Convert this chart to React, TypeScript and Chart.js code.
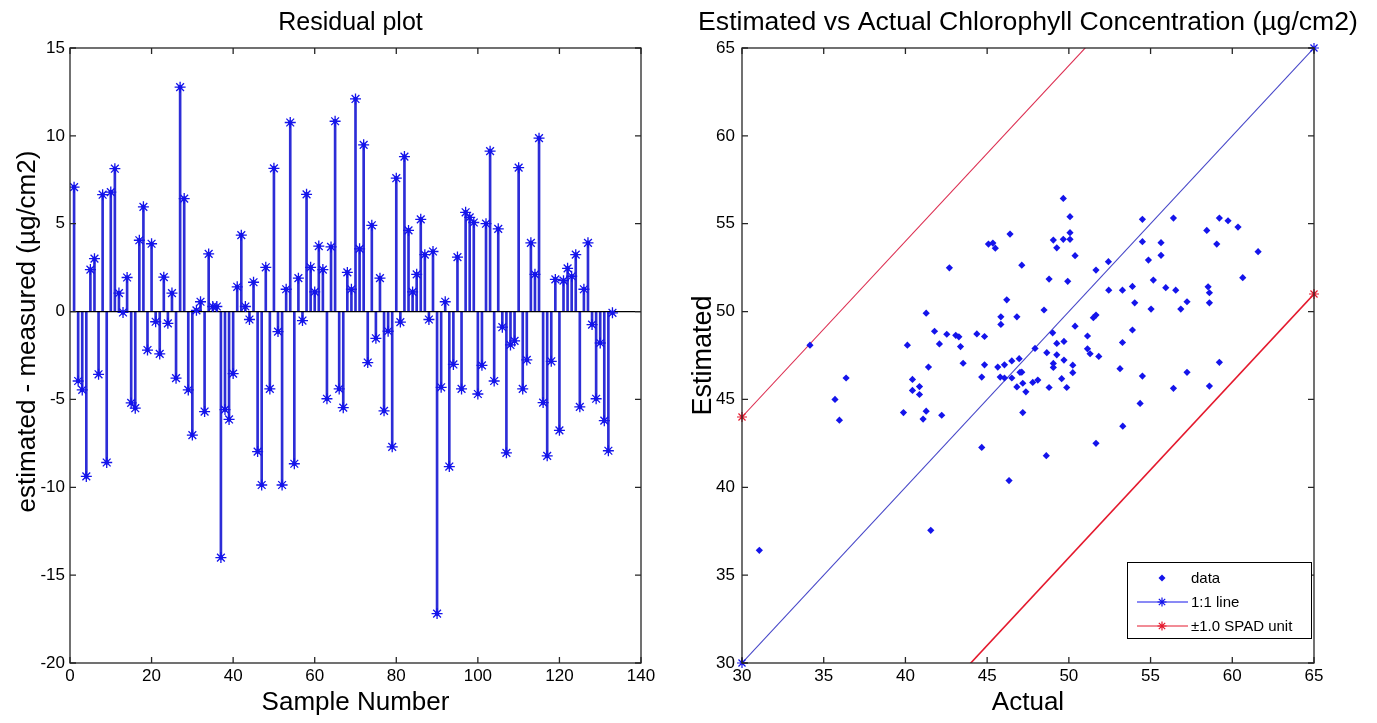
import React, { useEffect, useRef } from "react";
import { Chart, registerables } from "chart.js";

Chart.register(...registerables);

const FONT = "'Liberation Sans', Arial, Helvetica, sans-serif";
const TICK_FONT = "'Liberation Sans Narrow', 'Liberation Sans', Arial, sans-serif";

// ---------------- Residual plot data ----------------
const RESIDUALS = [
  7.08, -3.95, -4.46, -9.38, 2.39, 3.01, -3.57, 6.65, -8.59, 6.8,
  8.13, 1.05, -0.05, 1.94, -5.2, -5.5, 4.06, 5.96, -2.19, 3.86,
  -0.58, -2.41, 1.96, -0.67, 1.05, -3.79, 12.77, 6.43, -4.46, -7.03,
  0.07, 0.56, -5.69, 3.28, 0.29, 0.29, -14.0, -5.58, -6.14, -3.53,
  1.41, 4.35, 0.29, -0.45, 1.67, -7.97, -9.87, 2.52, -4.4, 8.15,
  -1.14, -9.87, 1.27, 10.76, -8.66, 1.9, -0.51, 6.67, 2.52, 1.12,
  3.73, 2.39, -4.96, 3.68, 10.83, -4.4, -5.47, 2.23, 1.27, 12.1,
  3.57, 9.49, -2.9, 4.91, -1.52, 1.9, -5.65, -1.12, -7.7, 7.59,
  -0.6, 8.82, 4.62, 1.12, 2.12, 5.25, 3.24, -0.45, 3.42, -17.19,
  -4.31, 0.56, -8.82, -3.01, 3.1, -4.4, 5.65, 5.36, 5.07, -4.69,
  -3.06, 5.0, 9.13, -3.95, 4.71, -0.89, -8.04, -1.9, -1.67, 8.19,
  -4.4, -2.75, 3.91, 2.12, 9.87, -5.18, -8.21, -2.83, 1.83, -6.76,
  1.76, 2.46, 2.01, 3.24, -5.42, 1.27, 3.91, -0.74, -4.96, -1.79,
  -6.21, -7.92, -0.07,
];
const SAMPLE_NUMBERS = RESIDUALS.map((_, i) => i + 1);
const RES_X_MIN = 0;
const RES_X_MAX = 140;
const RES_X_STEP = 20;
const RES_Y_MIN = -20;
const RES_Y_MAX = 15;
const RES_Y_STEP = 5;

// ---------------- Estimated vs actual data ----------------
const ACTUAL = [
  45.08, 45.35, 45.5, 42.69, 47.12, 46.2, 41.27, 45.84, 46.82, 45.84,
  41.78, 42.53, 43.08, 43.27, 44.37, 44.84, 34.16, 40.12, 42.08, 43.37,
  41.41, 43.53, 44.84, 45.65, 46.06, 46.51, 46.96, 47.12, 36.37, 40.43,
  40.86, 40.43, 40.86, 44.67, 45.8, 46.06, 46.51, 46.82, 47.18, 47.37,
  35.69, 35.96, 39.88, 41.27, 41.08, 42.22, 47.18, 44.67,
  31.06, 41.55,
  46.4, 49.66, 50.07, 50.07, 49.05, 49.66, 50.07, 49.26, 50.38, 52.42,
  51.66, 48.79, 49.93, 48.48, 50.38, 51.5, 51.66, 49.01, 47.93, 48.65,
  49.26, 49.7, 49.26, 49.7, 49.05, 49.05, 50.24, 50.24, 51.14, 51.14,
  51.3, 51.83, 47.01, 47.79, 48.1, 48.79, 49.56, 49.87, 53.3, 54.36,
  53.13, 54.5, 53.28, 53.89, 52.44, 53.28, 53.89, 54.03, 55.03, 55.17,
  55.93, 56.54, 57.23, 56.85, 54.5, 54.5, 54.87, 55.64, 55.64, 56.4,
  58.44, 59.21, 59.74, 60.35, 59.05, 61.58, 60.64, 58.52, 58.6, 58.6,
  59.21, 57.23, 56.4, 58.6,
  46.34, 48.62, 51.66,
];
const ESTIMATED = [
  53.84, 53.9, 53.61, 52.49, 52.64, 50.67, 49.91, 49.7, 49.7, 49.27,
  48.88, 48.71, 48.65, 48.56, 48.73, 48.58, 48.09, 48.09, 48.16, 48.01,
  46.84, 47.06, 46.97, 46.84, 46.97, 47.19, 47.32, 46.55, 46.22, 46.14,
  45.73, 45.51, 45.28, 46.27, 46.27, 46.22, 46.22, 45.71, 45.92, 45.43,
  45.0, 43.82, 44.25, 44.33, 43.88, 44.1, 44.25, 42.27,
  36.41, 37.55,
  54.41, 56.44, 55.4, 54.49, 54.07, 54.11, 54.11, 53.63, 53.18, 52.84,
  52.36, 51.85, 51.72, 50.09, 49.17, 49.65, 49.8, 48.79, 47.9, 47.66,
  48.19, 48.3, 47.54, 47.24, 47.05, 46.82, 46.95, 46.52, 48.61, 47.88,
  47.6, 47.45, 46.54, 45.97, 46.1, 45.68, 46.18, 45.68, 43.48, 44.77,
  46.75, 46.33, 48.24, 48.95, 51.22, 51.22, 51.43, 50.5, 50.14, 51.79,
  51.36, 51.22, 50.56, 50.14, 55.25, 53.98, 52.93, 53.92, 53.2, 55.32,
  54.62, 55.32, 55.17, 54.81, 53.84, 53.41, 51.93, 51.41, 51.07, 50.5,
  47.11, 46.54, 45.63, 45.76,
  40.38, 41.8, 42.5,
];
const AXIS_MIN = 30;
const AXIS_MAX = 65;
const AXIS_STEP = 5;
const SPAD_OFFSET = 14;

const BLUE = "rgb(20,20,235)";
const STEM = "rgb(45,45,215)";
const LINE_BLUE = "rgb(70,70,200)";
const RED = "rgb(228,25,45)";
const AXIS_COLOR = "#262626";

function drawStar(ctx: CanvasRenderingContext2D, x: number, y: number, r: number) {
  const d = r * 0.707;
  ctx.beginPath();
  ctx.moveTo(x - r, y);
  ctx.lineTo(x + r, y);
  ctx.moveTo(x, y - r);
  ctx.lineTo(x, y + r);
  ctx.moveTo(x - d, y - d);
  ctx.lineTo(x + d, y + d);
  ctx.moveTo(x - d, y + d);
  ctx.lineTo(x + d, y - d);
  ctx.stroke();
}

const boxPlugin = {
  id: "matlabBox",
  afterDatasetsDraw(chart: any, _args: any, opts: any) {
    const { ctx, chartArea: a, scales } = chart;
    ctx.save();
    ctx.strokeStyle = AXIS_COLOR;
    ctx.lineWidth = 1.3;
    ctx.strokeRect(a.left, a.top, a.right - a.left, a.bottom - a.top);
    const L = 6;
    ctx.beginPath();
    scales.x.ticks.forEach((t: any) => {
      const px = scales.x.getPixelForValue(t.value);
      ctx.moveTo(px, a.bottom);
      ctx.lineTo(px, a.bottom - L);
      ctx.moveTo(px, a.top);
      ctx.lineTo(px, a.top + L);
    });
    scales.y.ticks.forEach((t: any) => {
      const py = scales.y.getPixelForValue(t.value);
      ctx.moveTo(a.left, py);
      ctx.lineTo(a.left + L, py);
      ctx.moveTo(a.right, py);
      ctx.lineTo(a.right - L, py);
    });
    ctx.stroke();
    ctx.fillStyle = "#000";
    ctx.font = `${opts.fontSize}px ${FONT}`;
    ctx.textAlign = "center";
    ctx.textBaseline = "middle";
    ctx.fillText(opts.text, (a.left + a.right) / 2 + (opts.dx || 0), opts.y);
    if (opts.yLabel) {
      ctx.save();
      ctx.font = `${opts.yLabel.size}px ${FONT}`;
      ctx.translate(opts.yLabel.x, (a.top + a.bottom) / 2 + opts.yLabel.dy);
      ctx.rotate(-Math.PI / 2);
      ctx.fillText(opts.yLabel.text, 0, 0);
      ctx.restore();
    }
    ctx.restore();
  },
};

const legendPlugin = {
  id: "boxLegend",
  afterDraw(chart: any, _args: any, opts: any) {
    const { ctx, chartArea: a } = chart;
    const w = opts.width;
    const h = opts.height;
    const x1 = a.right - opts.right - w;
    const y1 = a.bottom - opts.bottom - h;
    ctx.save();
    ctx.fillStyle = "#fff";
    ctx.fillRect(x1, y1, w, h);
    ctx.strokeStyle = "#000";
    ctx.lineWidth = 1;
    ctx.strokeRect(x1 + 0.5, y1 + 0.5, w, h);
    ctx.font = `15px ${FONT}`;
    ctx.textBaseline = "middle";
    ctx.textAlign = "left";
    opts.items.forEach((it: any, i: number) => {
      const cy = y1 + 16 + i * 24;
      const mx = x1 + 35;
      if (it.line) {
        ctx.strokeStyle = it.color;
        ctx.lineWidth = 1;
        ctx.beginPath();
        ctx.moveTo(x1 + 10, cy);
        ctx.lineTo(x1 + 61, cy);
        ctx.stroke();
      }
      if (it.marker === "star") {
        ctx.strokeStyle = it.color;
        ctx.lineWidth = 1.2;
        drawStar(ctx, mx, cy, 4.5);
      } else {
        ctx.fillStyle = it.color;
        ctx.beginPath();
        ctx.moveTo(mx, cy - 3.5);
        ctx.lineTo(mx + 3.5, cy);
        ctx.lineTo(mx, cy + 3.5);
        ctx.lineTo(mx - 3.5, cy);
        ctx.closePath();
        ctx.fill();
      }
      ctx.fillStyle = "#000";
      ctx.fillText(it.label, x1 + 64, cy + 1);
    });
    ctx.restore();
  },
};

function tickFont() {
  return { family: TICK_FONT, size: 17 };
}

function leftConfig(): any {
  const pts = SAMPLE_NUMBERS.map((x, i) => ({ x, y: RESIDUALS[i] }));
  return {
    type: "scatter",
    data: {
      datasets: [
        {
          type: "scatter",
          label: "residual",
          data: pts,
          pointStyle: "star",
          pointRadius: 5.5,
          pointBorderColor: BLUE,
          pointBackgroundColor: BLUE,
          pointBorderWidth: 1.3,
          showLine: false,
        },
        {
          type: "scatter",
          label: "centre",
          data: pts,
          pointStyle: "circle",
          pointRadius: 2.3,
          pointBorderWidth: 0,
          pointBackgroundColor: BLUE,
          showLine: false,
        },
        {
          type: "line",
          label: "baseline",
          data: [
            { x: RES_X_MIN, y: 0 },
            { x: RES_X_MAX, y: 0 },
          ],
          borderColor: "#000",
          borderWidth: 1.2,
          pointRadius: 0,
          showLine: true,
          tension: 0,
        },
        {
          type: "bar",
          label: "stems",
          data: pts,
          backgroundColor: STEM,
          borderWidth: 0,
          barThickness: 2,
        },
      ],
    },
    options: {
      animation: false,
      responsive: false,
      maintainAspectRatio: false,
      layout: { padding: { top: 48, right: 39, left: 0, bottom: 0 } },
      plugins: {
        legend: { display: false },
        tooltip: { enabled: false },
        title: { display: false },
        matlabBox: {
          text: "Residual plot",
          fontSize: 25,
          y: 23,
          dx: -5,
          yLabel: { text: "estimated - measured (µg/cm2)", size: 26, x: 28, dy: -24 },
        },
      },
      scales: {
        x: {
          type: "linear",
          min: RES_X_MIN,
          max: RES_X_MAX,
          offset: false,
          ticks: { stepSize: RES_X_STEP, font: tickFont(), color: "#000", padding: 3, maxRotation: 0, autoSkip: false },
          grid: { display: false, drawTicks: false },
          border: { display: false },
          title: { display: true, text: "Sample Number", color: "#000", font: { family: FONT, size: 26 }, padding: { top: 0, bottom: 5 } },
          afterFit: (s: any) => {
            s.height = 60;
          },
        },
        y: {
          type: "linear",
          min: RES_Y_MIN,
          max: RES_Y_MAX,
          ticks: { stepSize: RES_Y_STEP, font: tickFont(), color: "#000", padding: 5, autoSkip: false },
          grid: { display: false, drawTicks: false },
          border: { display: false },
          title: { display: false },
          afterFit: (s: any) => {
            s.width = 70;
          },
        },
      },
    },
    plugins: [boxPlugin],
  };
}

function rightConfig(): any {
  const pts = ACTUAL.map((x, i) => ({ x, y: ESTIMATED[i] }));
  return {
    type: "scatter",
    data: {
      datasets: [
        {
          type: "scatter",
          label: "ends",
          data: [
            { x: AXIS_MIN, y: AXIS_MIN },
            { x: AXIS_MAX, y: AXIS_MAX },
            { x: AXIS_MIN, y: AXIS_MIN + SPAD_OFFSET },
            { x: AXIS_MAX, y: AXIS_MAX - SPAD_OFFSET },
          ],
          pointStyle: "star",
          pointRadius: 5,
          pointBorderWidth: 1.2,
          pointBorderColor: [BLUE, BLUE, RED, RED],
          pointBackgroundColor: [BLUE, BLUE, RED, RED],
          clip: false,
          showLine: false,
        },
        {
          type: "scatter",
          label: "data",
          data: pts,
          pointStyle: "rectRot",
          pointRadius: 3.6,
          pointBorderWidth: 0,
          pointBackgroundColor: BLUE,
          showLine: false,
        },
        {
          type: "line",
          label: "1:1 line",
          data: [
            { x: AXIS_MIN, y: AXIS_MIN },
            { x: AXIS_MAX, y: AXIS_MAX },
          ],
          borderColor: LINE_BLUE,
          borderWidth: 1.1,
          pointRadius: 0,
          showLine: true,
          tension: 0,
        },
        {
          type: "line",
          label: "±1.0 SPAD unit",
          data: [
            { x: AXIS_MIN, y: AXIS_MIN + SPAD_OFFSET },
            { x: AXIS_MAX, y: AXIS_MAX + SPAD_OFFSET },
          ],
          borderColor: "rgb(220,45,80)",
          borderWidth: 1.1,
          pointRadius: 0,
          showLine: true,
          tension: 0,
        },
        {
          type: "line",
          label: "±1.0 SPAD unit (lower)",
          data: [
            { x: AXIS_MIN, y: AXIS_MIN - SPAD_OFFSET },
            { x: AXIS_MAX, y: AXIS_MAX - SPAD_OFFSET },
          ],
          borderColor: RED,
          borderWidth: 1.6,
          pointRadius: 0,
          showLine: true,
          tension: 0,
        },
      ],
    },
    options: {
      animation: false,
      responsive: false,
      maintainAspectRatio: false,
      layout: { padding: { top: 48, right: 63, left: 0, bottom: 0 } },
      plugins: {
        legend: { display: false },
        tooltip: { enabled: false },
        title: { display: false },
        matlabBox: { text: "Estimated vs Actual Chlorophyll Concentration (µg/cm2)", fontSize: 26.6, y: 23, dx: 0 },
        boxLegend: {
          width: 184,
          height: 76,
          right: 3,
          bottom: 25,
          items: [
            { label: "data", color: BLUE, line: false, marker: "diamond" },
            { label: "1:1 line", color: BLUE, line: true, marker: "star" },
            { label: "±1.0 SPAD unit", color: RED, line: true, marker: "star" },
          ],
        },
      },
      scales: {
        x: {
          type: "linear",
          min: AXIS_MIN,
          max: AXIS_MAX,
          ticks: { stepSize: AXIS_STEP, font: tickFont(), color: "#000", padding: 3, maxRotation: 0, autoSkip: false },
          grid: { display: false, drawTicks: false },
          border: { display: false },
          title: { display: true, text: "Actual", color: "#000", font: { family: FONT, size: 26 }, padding: { top: 0, bottom: 5 } },
          afterFit: (s: any) => {
            s.height = 60;
          },
        },
        y: {
          type: "linear",
          min: AXIS_MIN,
          max: AXIS_MAX,
          ticks: { stepSize: AXIS_STEP, font: tickFont(), color: "#000", padding: 7, autoSkip: false },
          grid: { display: false, drawTicks: false },
          border: { display: false },
          title: { display: true, text: "Estimated", color: "#000", font: { family: FONT, size: 27 }, padding: { top: 7, bottom: 0 } },
          afterFit: (s: any) => {
            s.width = 62;
          },
        },
      },
    },
    plugins: [boxPlugin, legendPlugin],
  };
}

export default function App() {
  const leftRef = useRef<HTMLCanvasElement>(null);
  const rightRef = useRef<HTMLCanvasElement>(null);

  useEffect(() => {
    const c1 = new Chart(leftRef.current as HTMLCanvasElement, leftConfig());
    const c2 = new Chart(rightRef.current as HTMLCanvasElement, rightConfig());
    return () => {
      c1.destroy();
      c2.destroy();
    };
  }, []);

  return (
    <div style={{ position: "absolute", left: 0, top: 0, width: 1377, height: 723, background: "#fff", overflow: "hidden" }}>
      <canvas ref={leftRef} width={680} height={723} style={{ position: "absolute", left: 0, top: 0, width: 680, height: 723 }} />
      <canvas ref={rightRef} width={697} height={723} style={{ position: "absolute", left: 680, top: 0, width: 697, height: 723 }} />
    </div>
  );
}
